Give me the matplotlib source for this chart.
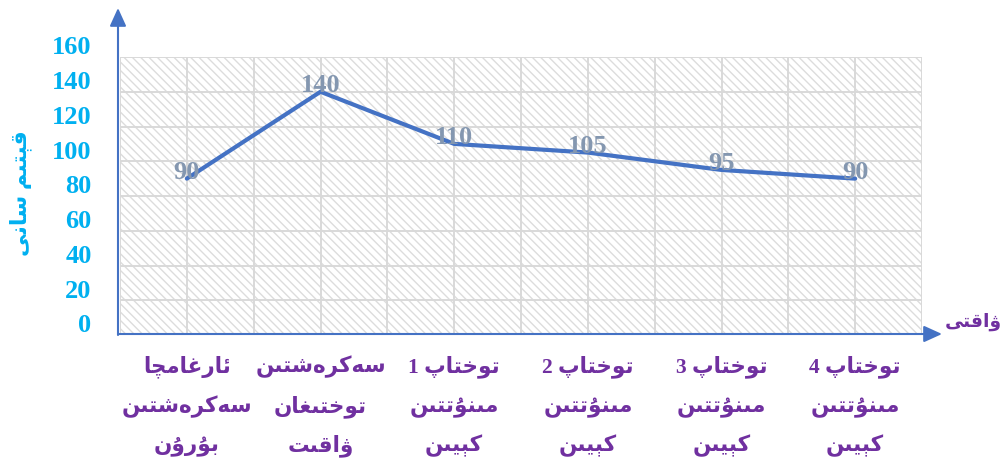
import matplotlib
matplotlib.use("Agg")
import matplotlib.pyplot as plt
from matplotlib.patches import Rectangle
import matplotlib.transforms as mtransforms

# ---------------- data ----------------
categories = [
    ["ئارغامچا", "سەكرەشتىن", "بۇرۇن"],
    ["سەكرەشتىن", "توختىغان", "ۋاقىت"],
    ["توختاپ 1", "مىنۇتتىن", "كېيىن"],
    ["توختاپ 2", "مىنۇتتىن", "كېيىن"],
    ["توختاپ 3", "مىنۇتتىن", "كېيىن"],
    ["توختاپ 4", "مىنۇتتىن", "كېيىن"],
]
values = [90, 140, 110, 105, 95, 90]
y_ticks = [0, 20, 40, 60, 80, 100, 120, 140, 160]
y_label = "قېتىم سانى"
x_label = "ۋاقتى"

# ---------------- minimal Arabic/Uyghur shaping ----------------
FORMS = {
    '\u0626': ('\uFE89', '\uFE8A', '\uFE8B', '\uFE8C'),
    '\u0627': ('\uFE8D', '\uFE8E', None, None),
    '\u0628': ('\uFE8F', '\uFE90', '\uFE91', '\uFE92'),
    '\u062A': ('\uFE95', '\uFE96', '\uFE97', '\uFE98'),
    '\u062E': ('\uFEA5', '\uFEA6', '\uFEA7', '\uFEA8'),
    '\u0631': ('\uFEAD', '\uFEAE', None, None),
    '\u0633': ('\uFEB1', '\uFEB2', '\uFEB3', '\uFEB4'),
    '\u0634': ('\uFEB5', '\uFEB6', '\uFEB7', '\uFEB8'),
    '\u063A': ('\uFECD', '\uFECE', '\uFECF', '\uFED0'),
    '\u0642': ('\uFED5', '\uFED6', '\uFED7', '\uFED8'),
    '\u0643': ('\uFED9', '\uFEDA', '\uFEDB', '\uFEDC'),
    '\u0645': ('\uFEE1', '\uFEE2', '\uFEE3', '\uFEE4'),
    '\u0646': ('\uFEE5', '\uFEE6', '\uFEE7', '\uFEE8'),
    '\u0648': ('\uFEED', '\uFEEE', None, None),
    '\u0649': ('\uFEEF', '\uFEF0', '\uFBE8', '\uFBE9'),
    '\u064A': ('\uFEF1', '\uFEF2', '\uFEF3', '\uFEF4'),
    '\u067E': ('\uFB56', '\uFB57', '\uFB58', '\uFB59'),
    '\u0686': ('\uFB7A', '\uFB7B', '\uFB7C', '\uFB7D'),
    '\u06C7': ('\uFBD7', '\uFBD8', None, None),
    '\u06CB': ('\uFBDE', '\uFBDF', None, None),
    '\u06D0': ('\uFBE4', '\uFBE5', '\uFBE6', '\uFBE7'),
    '\u06D5': ('\u06D5', '\uFEEA', None, None),
}


def shape_word(word):
    out = []
    n = len(word)
    for i, ch in enumerate(word):
        f = FORMS.get(ch)
        if f is None:
            out.append(ch)
            continue
        prev = word[i - 1] if i > 0 else None
        nxt = word[i + 1] if i + 1 < n else None
        join_prev = prev in FORMS and FORMS[prev][2] is not None
        join_next = nxt in FORMS and f[2] is not None
        if join_prev and join_next:
            out.append(f[3])
        elif join_prev:
            out.append(f[1])
        elif join_next:
            out.append(f[2])
        else:
            out.append(f[0])
    return ''.join(out)


def visual(line):
    toks = line.split(' ')
    res = []
    for t in reversed(toks):
        if any(c in FORMS for c in t):
            res.append(shape_word(t)[::-1])
        else:
            res.append(t)
    return ' '.join(res)


# ---------------- figure ----------------
plt.rcParams['hatch.linewidth'] = 1.0
W, H = 1005, 463
fig = plt.figure(figsize=(W / 100, H / 100), dpi=100)
L, R, T, B = 120, 922, 57, 335
ax = fig.add_axes([L / W, 1 - B / H, (R - L) / W, (B - T) / H])

FAM = ['Liberation Serif', 'DejaVu Sans']
BLUE = '#4472C4'
CYAN = '#00B0F0'
PURPLE = '#7030A0'
LABEL = '#8497B0'
GRID = '#D9D9D9'

n = len(values)
ax.set_xlim(-0.5, n - 0.5)
ax.set_ylim(0, 160)

# hatched plot area
bg = Rectangle((0, 0), 1, 1, transform=ax.transAxes, facecolor='white',
               edgecolor='#DCDCDC', hatch='\\\\\\\\', linewidth=0, zorder=0)
ax.add_patch(bg)

# grid lines
for k in range(2 * n + 1):
    ax.axvline(-0.5 + 0.5 * k, color=GRID, lw=1.4, zorder=1)
for v in y_ticks:
    ax.axhline(v, color=GRID, lw=1.4, zorder=1)

ax.set_xticks([])
ax.set_yticks([])
for s in ax.spines.values():
    s.set_visible(False)

# line
xs = list(range(n))
ax.plot(xs, values, color=BLUE, lw=3, solid_capstyle='round',
        solid_joinstyle='miter', zorder=3)

# data labels
for x, v in zip(xs, values):
    ax.annotate(str(v), (x, v), xytext=(0, 4.5), textcoords='offset points',
                ha='center', va='center', fontsize=19, fontweight='bold',
                family=FAM, color=LABEL, zorder=4)

# y tick labels
ytr = mtransforms.blended_transform_factory(ax.transAxes, ax.transData)
for v in y_ticks:
    ax.annotate(str(v), (0, v), xycoords=ytr, xytext=(-20.5, 6.5),
                textcoords='offset points', ha='right', va='center',
                fontsize=19, fontweight='bold', family=FAM, color=CYAN,
                annotation_clip=False)

# category labels
xtr = mtransforms.blended_transform_factory(ax.transData, ax.transAxes)
baselines = [372, 412, 451]
for i, lines in enumerate(categories):
    for line, bl in zip(lines, baselines):
        ax.text(i, (B - bl) / (B - T), visual(line), transform=xtr,
                ha='center', va='baseline', fontsize=15.5, fontweight='bold',
                family=FAM, color=PURPLE)

# axis arrows
arrow = dict(arrowstyle='-|>,head_length=0.55,head_width=0.25',
             mutation_scale=20, color=BLUE, lw=1.5, shrinkA=0, shrinkB=0)
ax.annotate('', xy=((118 - L) / (R - L), (B - 8) / (B - T)),
            xytext=((118 - L) / (R - L), (B - 335) / (B - T)),
            xycoords='axes fraction', textcoords='axes fraction',
            arrowprops=arrow, annotation_clip=False)
ax.annotate('', xy=((942 - L) / (R - L), (B - 334) / (B - T)),
            xytext=((118 - L) / (R - L), (B - 334) / (B - T)),
            xycoords='axes fraction', textcoords='axes fraction',
            arrowprops=arrow, annotation_clip=False)

# axis titles
fig.text(21 / W, 1 - 193 / H, visual(y_label), rotation=90, ha='center',
         va='center', fontsize=16, fontweight='bold', family=FAM, color=CYAN)
fig.text(973 / W, 1 - 322 / H, visual(x_label), ha='center', va='center',
         fontsize=13.5, fontweight='bold', family=FAM, color=PURPLE)

fig.savefig('out.png', dpi=100)
